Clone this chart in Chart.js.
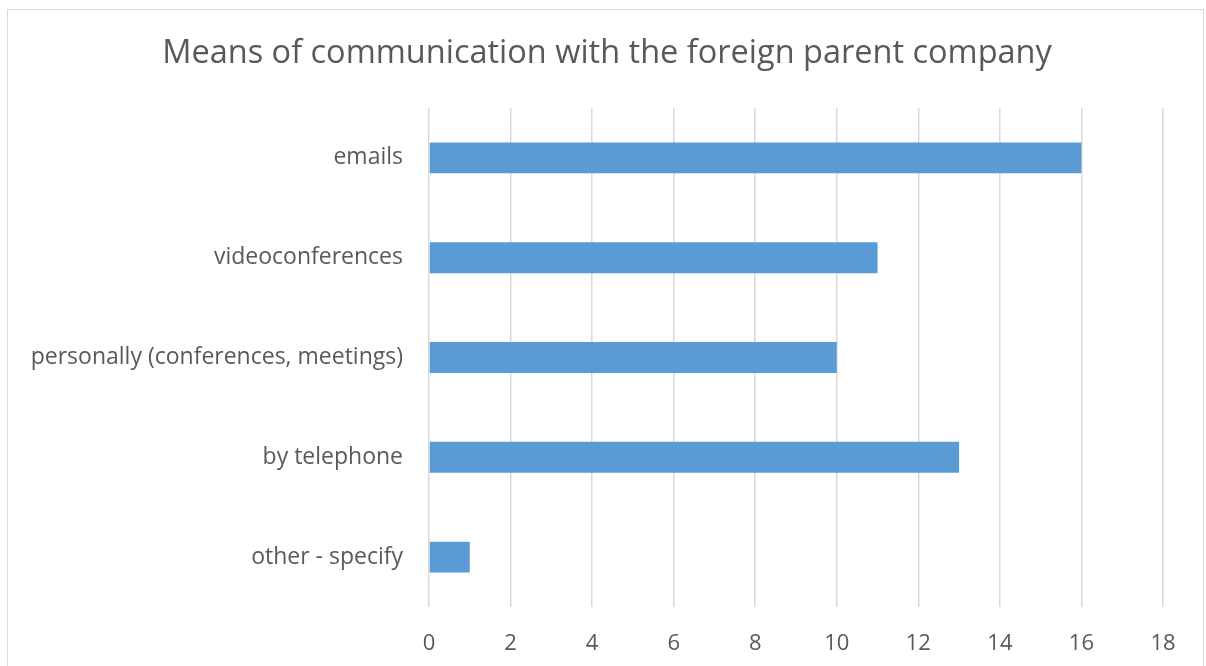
<!DOCTYPE html>
<html>
<head>
<meta charset="utf-8">
<script src="https://cdn.jsdelivr.net/npm/chart.js@4/dist/chart.umd.min.js"></script>
<style>
  html, body { margin: 0; padding: 0; background: #fff; overflow: hidden; }
  #wrap { position: relative; width: 1206px; height: 666px; }
  #frame {
    position: absolute; left: 7px; top: 9px; width: 1197px; height: 700px;
    border: 1px solid #d9d9d9; box-sizing: border-box;
  }
  canvas { position: absolute; left: 0; top: 0; }
</style>
</head>
<body>
<div id="wrap">
  <div id="frame"></div>
  <canvas id="chart" width="1206" height="666"></canvas>
</div>
<script>
const TITLE = 'Means of communication with the foreign parent company'
const categories = ['emails', 'videoconferences', 'personally (conferences, meetings)', 'by telephone', 'other - specify']
const counts = [16, 11, 10, 13, 1]
const xMin = 0
const xMax = 18
const xStep = 2

const FONT = '"Open Sans", Lato, sans-serif'
const TEXT = '#595959'
const GRID = '#d9d9d9'
const BAR = '#5b9bd5'

// centre the title on the whole frame, not just left edge..plot right
const centerTitle = {
    id: 'centerTitle',
    afterLayout(chart) {
        const t = chart.titleBlock
        if (!t) return
        t.left = 8
        t.right = 1206
        t.width = t.right - t.left
    }
}

new Chart(document.getElementById('chart'), {
    type: 'bar',
    data: {
        labels: categories,
        datasets: [{
            data: counts,
            backgroundColor: BAR,
            borderWidth: 0,
            categoryPercentage: 1,
            barPercentage: 0.31,
        }]
    },
    options: {
        indexAxis: 'y',
        responsive: false,
        animation: false,
        layout: { padding: { left: 0, right: 43, top: 0, bottom: 0 } },
        plugins: {
            legend: { display: false },
            tooltip: { enabled: false },
            title: {
                display: true,
                text: TITLE,
                color: TEXT,
                font: { family: FONT, size: 32.5, weight: 'normal' },
                padding: { top: 34, bottom: 35 },
            },
        },
        scales: {
            x: {
                min: xMin,
                max: xMax,
                ticks: { stepSize: xStep, color: TEXT, padding: 24, font: { family: FONT, size: 22 } },
                grid: { color: GRID, lineWidth: 1.5, drawTicks: false },
                border: { display: false },
                afterFit: s => { s.height = 59 },
            },
            y: {
                ticks: { color: TEXT, padding: 26, font: { family: FONT, size: 23 } },
                grid: { display: false, drawTicks: false },
                border: { display: false },
                afterFit: s => { s.width = 429 },
            },
        },
    },
    plugins: [centerTitle]
})
</script>
</body>
</html>
